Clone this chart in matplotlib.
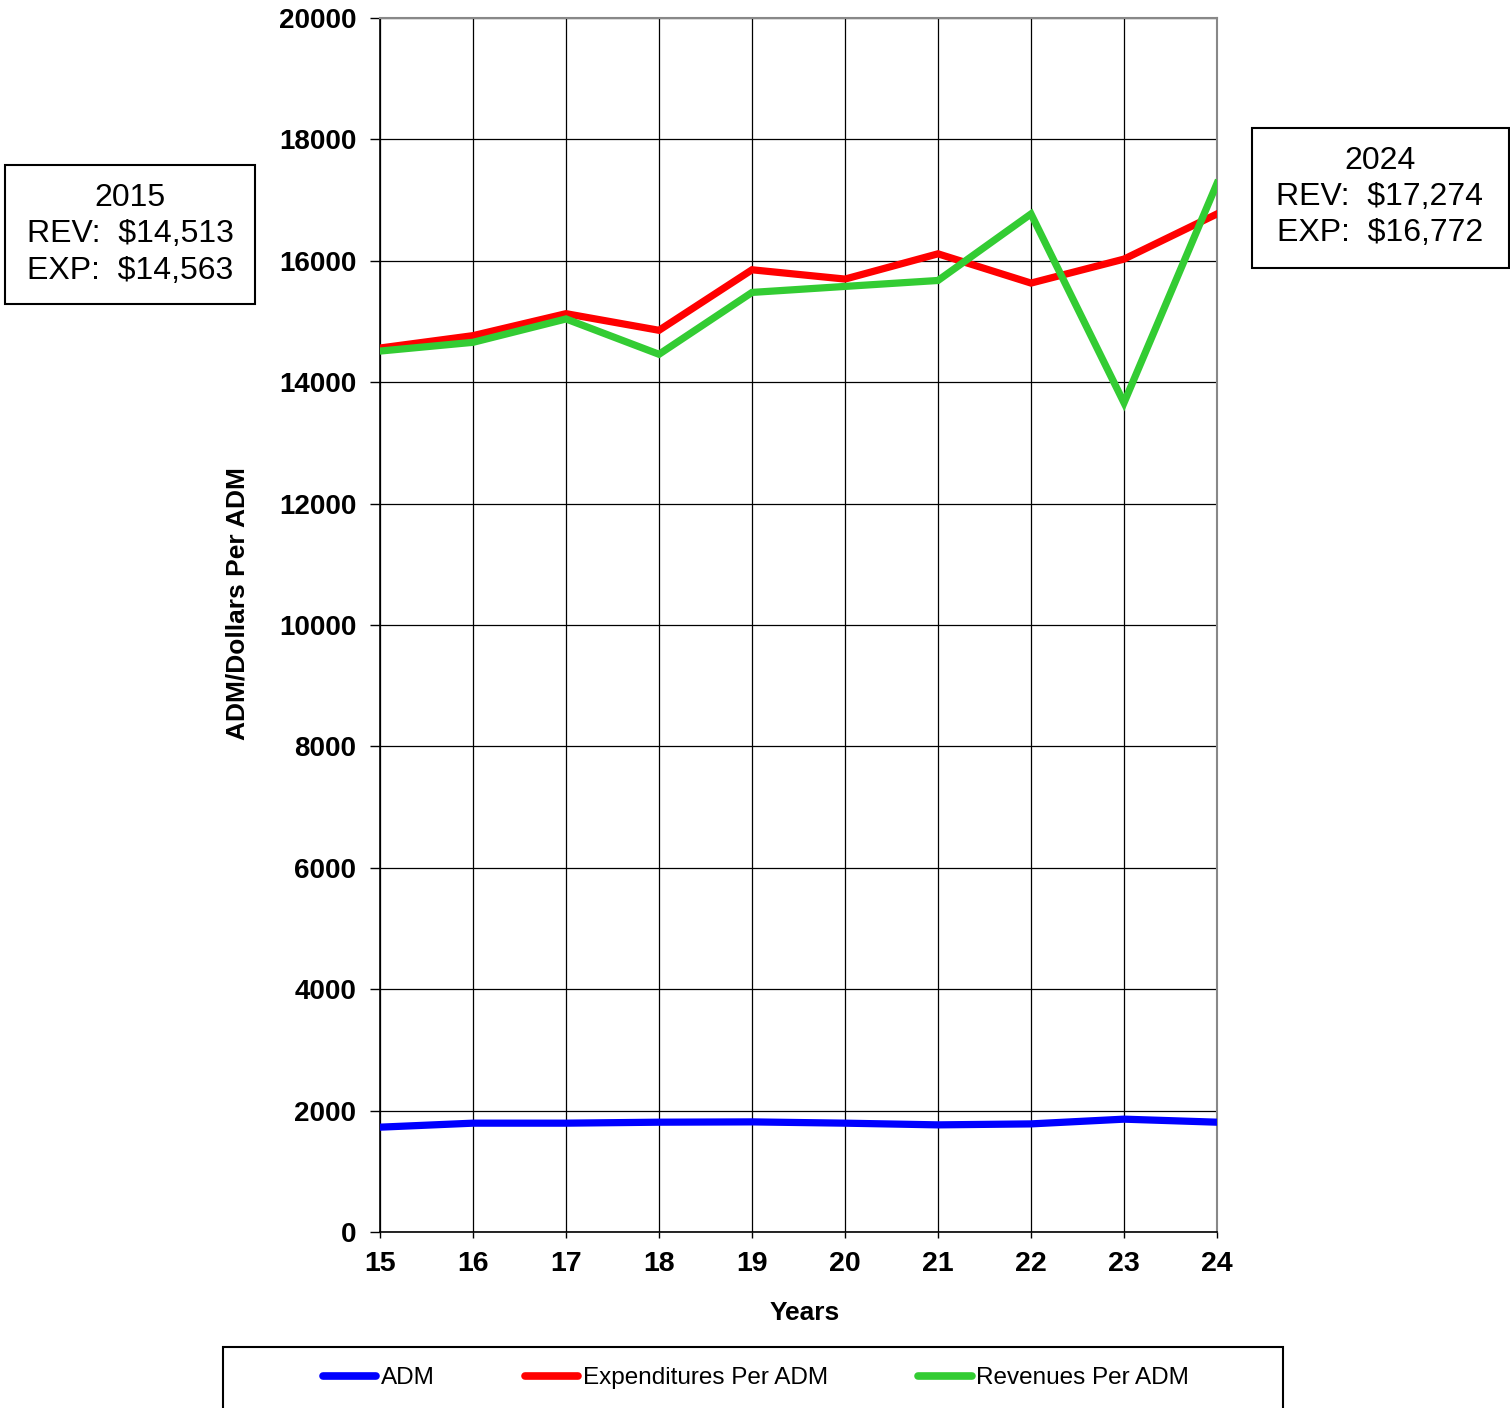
import matplotlib
matplotlib.use("Agg")
import matplotlib.pyplot as plt
from matplotlib.patches import Rectangle
from matplotlib.lines import Line2D

years = [15, 16, 17, 18, 19, 20, 21, 22, 23, 24]
adm = [1727, 1793, 1793, 1809, 1814, 1793, 1765, 1781, 1859, 1809]
exp_per_adm = [14563, 14767, 15129, 14855, 15852, 15699, 16115, 15633, 16028, 16772]
rev_per_adm = [14513, 14657, 15042, 14460, 15479, 15578, 15676, 16772, 13661, 17274]
series_names = ["ADM", "Expenditures Per ADM", "Revenues Per ADM"]
yticks = [0, 2000, 4000, 6000, 8000, 10000, 12000, 14000, 16000, 18000, 20000]
first_year_label = "2015"
last_year_label = "2024"

W, H = 1510, 1408
fig = plt.figure(figsize=(W / 100, H / 100), dpi=100)
ax = fig.add_axes([380 / W, 1 - 1232 / H, (1217 - 380) / W, (1232 - 18) / H])

BLUE, RED, GREEN = "#0000FF", "#FF0000", "#33CC33"
lw = 5.2
ax.plot(years, adm, color=BLUE, lw=lw, solid_joinstyle="miter", zorder=3)
ax.plot(years, exp_per_adm, color=RED, lw=lw, solid_joinstyle="miter", zorder=4)
ax.plot(years, rev_per_adm, color=GREEN, lw=lw, solid_joinstyle="miter", zorder=5)

ax.set_xlim(years[0], years[-1])
ax.set_ylim(yticks[0], yticks[-1])
ax.set_xticks(years)
ax.set_yticks(yticks)
ax.grid(True, color="black", lw=0.9)
ax.set_axisbelow(True)

sans = ["Liberation Sans", "DejaVu Sans"]

ax.set_yticklabels([str(v) for v in yticks], fontsize=20, fontweight="bold", family=sans)
ax.set_xticklabels([str(v) for v in years], fontsize=20.5, fontweight="bold", family=sans)
ax.tick_params(axis="y", direction="out", length=7, width=1, pad=10)
ax.tick_params(axis="x", direction="out", length=4, width=1, pad=10)

for s in ("left", "bottom"):
    ax.spines[s].set_color("black")
    ax.spines[s].set_linewidth(1.2)
for s in ("top", "right"):
    ax.spines[s].set_color("#888888")
    ax.spines[s].set_linewidth(1.5)

ax.set_ylabel("ADM/Dollars Per ADM", fontsize=19, fontweight="bold", family=sans, labelpad=21)
ax.yaxis.label.set_y((1232 - 604) / (1232 - 18))
ax.set_xlabel("Years", fontsize=19, fontweight="bold", family=sans, labelpad=17)
ax.xaxis.label.set_x((805 - 380) / (1217 - 380))

def box(x0, y0, x1, y1):
    fig.add_artist(Rectangle((x0 / W, 1 - y1 / H), (x1 - x0) / W, (y1 - y0) / H,
                             transform=fig.transFigure, fill=False, ec="black", lw=1.5))

# annotation boxes
box(5, 165, 255, 304)
fig.text(130 / W, 1 - 234.5 / H,
         f"{first_year_label}\nREV:  ${rev_per_adm[0]:,}\nEXP:  ${exp_per_adm[0]:,}",
         ha="center", va="center", multialignment="center", fontsize=23,
         family=sans, linespacing=1.28, parse_math=False)
box(1252, 128, 1509, 268)
fig.text(1380 / W, 1 - 197 / H,
         f"{last_year_label}\nREV:  ${rev_per_adm[-1]:,}\nEXP:  ${exp_per_adm[-1]:,}",
         ha="center", va="center", multialignment="center", fontsize=23,
         family=sans, linespacing=1.28, parse_math=False)

# legend
box(223, 1347, 1283, 1440)
handles = [Line2D([], [], color=c, lw=5.5, solid_capstyle="round") for c in (BLUE, RED, GREEN)]
fig.legend(handles, series_names, loc="center", bbox_to_anchor=(756 / W, 1 - 1378 / H),
           ncol=3, frameon=False, handlelength=2.2, handletextpad=0.2, columnspacing=3.7,
           prop={"family": sans, "size": 17.5})

fig.savefig("out.png", dpi=100)
